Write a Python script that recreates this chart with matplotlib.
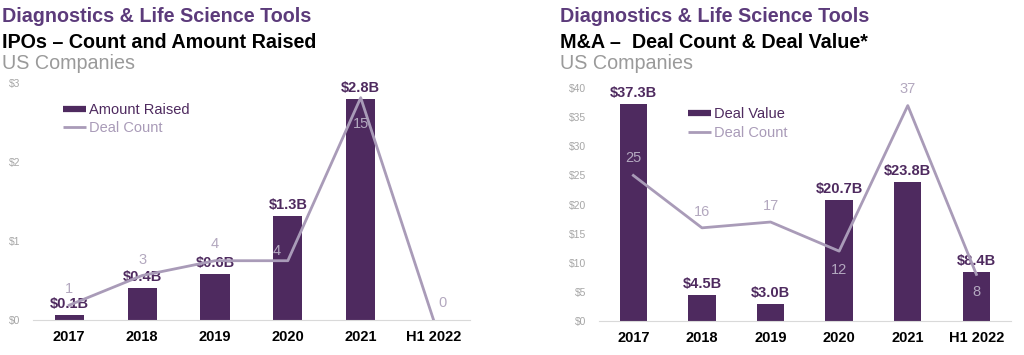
import matplotlib.pyplot as plt
from matplotlib.lines import Line2D

# data
years = ['2017', '2018', '2019', '2020', '2021', 'H1 2022']

ipo_amount = [0.06, 0.4, 0.58, 1.32, 2.8, 0.0]
ipo_amount_labels = ['$0.1B', '$0.4B', '$0.6B', '$1.3B', '$2.8B', None]
ipo_count = [1, 3, 4, 4, 15, 0]

ma_value = [37.3, 4.5, 3.0, 20.7, 23.8, 8.4]
ma_value_labels = ['$37.3B', '$4.5B', '$3.0B', '$20.7B', '$23.8B', '$8.4B']
ma_count = [25, 16, 17, 12, 37, 8]

# label offsets for the count labels (pixels)
ipo_count_off = [(0, 16), (0, 16), (0, 17), (-11, 10), (0, -26), (9, 17)]
ma_count_off = [(0, 17), (0, 16), (0, 16), (0, -19), (0, 17), (0, -18)]

BAR = '#4e2a5f'
TITLE_PURPLE = '#5c3b7b'
LINE = '#a99bb8'
COUNT_TXT = '#b3a8bf'
TICK = '#a6a6a6'

plt.rcParams['font.family'] = ['Liberation Sans', 'DejaVu Sans']

fig = plt.figure(figsize=(10.24, 3.55), dpi=100)


def titles(x, second):
    fig.text(x, 0.938, 'Diagnostics & Life Science Tools', color=TITLE_PURPLE,
             fontsize=14.2, fontweight='bold', va='baseline', ha='left')
    fig.text(x, 0.865, second, color='black', fontsize=14.2, fontweight='bold',
             va='baseline', ha='left')
    fig.text(x, 0.806, 'US Companies', color='#9a9a9a', fontsize=14.2,
             va='baseline', ha='left')


def panel(rect, values, value_labels, counts, count_off, ymax, ystep, cmax,
          bar_name, leg_anchor):
    ax = fig.add_axes(rect)
    x = range(len(years))
    ax.bar(x, values, width=0.4, color=BAR, zorder=2)
    ax.set_xlim(-0.5, 5.5)
    ax.set_ylim(0, ymax)
    ax.set_yticks([i * ystep for i in range(int(ymax / ystep) + 1)])
    ax.set_yticklabels(['$%d' % (i * ystep) for i in range(int(ymax / ystep) + 1)])
    ax.set_xticks(list(x))
    ax.set_xticklabels(years, fontsize=10.5, fontweight='bold', color='black')
    ax.tick_params(axis='y', length=0, labelsize=7.5, labelcolor=TICK, pad=9)
    ax.tick_params(axis='x', length=0, pad=7)
    for s in ['left', 'right', 'top']:
        ax.spines[s].set_visible(False)
    ax.spines['bottom'].set_color('#d9d9d9')
    for i, (v, lab) in enumerate(zip(values, value_labels)):
        if lab:
            ax.annotate(lab, (i, v), xytext=(0, 4), textcoords='offset pixels',
                        ha='center', va='bottom', fontsize=10.5,
                        fontweight='bold', color=BAR, zorder=3)

    ax2 = ax.twinx()
    ax2.plot(x, counts, color=LINE, lw=2, zorder=4)
    ax2.set_ylim(0, cmax)
    ax2.axis('off')
    for i, (c, off) in enumerate(zip(counts, count_off)):
        ax2.annotate(str(c), (i, c), xytext=off, textcoords='offset pixels',
                     ha='center', va='center', fontsize=10.5, color=COUNT_TXT,
                     zorder=5)

    handles = [Line2D([], [], color=BAR, lw=4.5, solid_capstyle='butt'),
               Line2D([], [], color=LINE, lw=2, solid_capstyle='butt')]
    leg = fig.legend(handles, [bar_name, 'Deal Count'], loc='center left',
                     bbox_to_anchor=leg_anchor, frameon=False, fontsize=10.5,
                     handlelength=1.6, handletextpad=0.2, labelspacing=0.3,
                     borderpad=0, borderaxespad=0)
    leg.get_texts()[0].set_color(BAR)
    leg.get_texts()[1].set_color(LINE)
    return ax


titles(0.002, 'IPOs \u2013 Count and Amount Raised')
titles(0.547, 'M&A \u2013  Deal Count & Deal Value*')

panel([0.032, 0.0986, 0.427, 0.668], ipo_amount, ipo_amount_labels, ipo_count,
      ipo_count_off, 3, 1, 16, 'Amount Raised', (0.0615, 0.665))
panel([0.585, 0.0958, 0.402, 0.656], ma_value, ma_value_labels, ma_count,
      ma_count_off, 40, 5, 40, 'Deal Value', (0.672, 0.652))

fig.savefig('out.png', dpi=100)
